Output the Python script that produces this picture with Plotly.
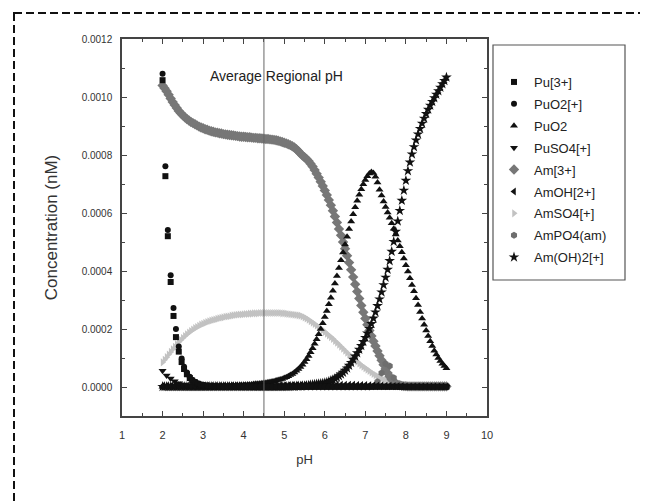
import plotly.graph_objects as go

# concentration values are given in units of 1e-6 nM
SCALE = 1e-6

pH_fine = [
    2.00, 2.05, 2.10, 2.15, 2.20, 2.25, 2.30, 2.35, 2.40, 2.45, 2.50, 2.55, 2.60, 2.65, 2.70, 2.75, 2.80, 2.85, 2.90, 2.95,
    3.00, 3.05, 3.10, 3.15, 3.20, 3.25, 3.30, 3.35, 3.40, 3.45, 3.50, 3.55, 3.60, 3.65, 3.70, 3.75, 3.80, 3.85, 3.90, 3.95,
    4.00, 4.05, 4.10, 4.15, 4.20, 4.25, 4.30, 4.35, 4.40, 4.45, 4.50, 4.55, 4.60, 4.65, 4.70, 4.75, 4.80, 4.85, 4.90, 4.95,
    5.00, 5.05, 5.10, 5.15, 5.20, 5.25, 5.30, 5.35, 5.40, 5.45, 5.50, 5.55, 5.60, 5.65, 5.70, 5.75, 5.80, 5.85, 5.90, 5.95,
    6.00, 6.05, 6.10, 6.15, 6.20, 6.25, 6.30, 6.35, 6.40, 6.45, 6.50, 6.55, 6.60, 6.65, 6.70, 6.75, 6.80, 6.85, 6.90, 6.95,
    7.00, 7.05, 7.10, 7.15, 7.20, 7.25, 7.30, 7.35, 7.40, 7.45, 7.50, 7.55, 7.60, 7.65, 7.70, 7.75, 7.80, 7.85, 7.90, 7.95,
    8.00, 8.05, 8.10, 8.15, 8.20, 8.25, 8.30, 8.35, 8.40, 8.45, 8.50, 8.55, 8.60, 8.65, 8.70, 8.75, 8.80, 8.85, 8.90, 8.95,
    9.00,
]

pH_coarse = [
    2.0, 2.1, 2.2, 2.3, 2.4, 2.5, 2.6, 2.7, 2.8, 2.9,
    3.0, 3.1, 3.2, 3.3, 3.4, 3.5, 3.6, 3.7, 3.8, 3.9,
    4.0, 4.1, 4.2, 4.3, 4.4, 4.5, 4.6, 4.7, 4.8, 4.9,
    5.0, 5.1, 5.2, 5.3, 5.4, 5.5, 5.6, 5.7, 5.8, 5.9,
    6.0, 6.1, 6.2, 6.3, 6.4, 6.5, 6.6, 6.7, 6.8, 6.9,
    7.0, 7.1, 7.2, 7.3, 7.4, 7.5, 7.6, 7.7, 7.8, 7.9,
    8.0, 8.1, 8.2, 8.3, 8.4, 8.5, 8.6, 8.7, 8.8, 8.9, 9.0,
]

pH_pu = [
    2.00, 2.07, 2.13, 2.20, 2.27, 2.33, 2.40, 2.47, 2.53, 2.60, 2.67, 2.73, 2.80, 2.87, 2.93, 3.00,
    3.1, 3.2, 3.3, 3.4, 3.5, 3.6, 3.7, 3.8, 3.9,
    4.0, 4.1, 4.2, 4.3, 4.4, 4.5, 4.6, 4.7, 4.8, 4.9,
    5.0, 5.1, 5.2, 5.3, 5.4, 5.5, 5.6, 5.7, 5.8, 5.9,
    6.0, 6.1, 6.2, 6.3, 6.4, 6.5, 6.6, 6.7, 6.8, 6.9,
    7.0, 7.1, 7.2, 7.3, 7.4, 7.5, 7.6, 7.7, 7.8, 7.9,
    8.0, 8.1, 8.2, 8.3, 8.4, 8.5, 8.6, 8.7, 8.8, 8.9, 9.0,
]

pu3 = [
    1058, 727, 520, 362, 245, 172, 122, 86, 62, 44, 31, 22, 16, 11, 8, 6,
    4, 3, 3, 2, 2, 2, 2, 1, 1,
    1, 1, 1, 1, 1, 1, 1, 1, 1, 1,
    1, 1, 1, 1, 1, 1, 1, 1, 1, 1,
    1, 1, 1, 1, 1, 1, 1, 1, 1, 1,
    1, 1, 1, 1, 1, 1, 1, 1, 1, 1,
    1, 1, 1, 1, 1, 1, 1, 1, 1, 1, 1,
]

puo2_plus = [
    1080, 761, 541, 385, 272, 200, 140, 98, 70, 50, 35, 25, 18, 13, 9, 7,
    5, 4, 3, 3, 2, 2, 2, 2, 1,
    1, 1, 1, 1, 1, 1, 1, 1, 1, 1,
    1, 1, 1, 1, 1, 1, 1, 1, 1, 1,
    1, 1, 1, 1, 1, 1, 1, 1, 1, 1,
    1, 1, 1, 1, 1, 1, 1, 1, 1, 1,
    1, 1, 1, 1, 1, 1, 1, 1, 1, 1, 1,
]

puo2 = [
    1, 1, 1, 1, 1, 1, 1, 1, 1, 1, 1, 1, 1, 1, 1, 1, 1, 1, 1, 1,
    1, 1, 1, 1, 1, 2, 2, 2, 2, 2, 3, 3, 3, 3, 4, 4, 5, 5, 6, 6,
    7, 7, 8, 8, 9, 10, 11, 11, 12, 13, 14, 15, 16, 17, 19, 20, 22, 24, 26, 28,
    31, 34, 37, 41, 45, 50, 56, 62, 69, 77, 86, 96, 107, 120, 134, 149, 165, 182, 200, 220,
    241, 262, 285, 308, 332, 357, 383, 410, 437, 464, 491, 518, 545, 571, 596, 620, 642, 663, 682, 699,
    714, 727, 736, 741, 738, 725, 705, 680, 660, 640, 621, 602, 584, 565, 546, 526, 505, 485, 465, 443,
    420, 398, 375, 352, 330, 306, 283, 259, 236, 215, 195, 176, 158, 141, 125, 112, 100, 90, 80, 72,
    65,
]

puso4_plus = [
    56, 40, 29, 20, 13, 8, 5, 3, 2, 2,
    1, 1, 1, 1, 1, 1, 1, 1, 1, 1,
    1, 1, 1, 1, 1, 1, 1, 1, 1, 1,
    1, 1, 1, 1, 1, 1, 1, 1, 1, 1,
    1, 1, 1, 1, 1, 1, 1, 1, 1, 1,
    1, 1, 1, 1, 1, 1, 1, 1, 1, 1,
    1, 1, 1, 1, 1, 1, 1, 1, 1, 1, 1,
]

am3 = [
    1040, 1030, 1020, 1008, 995, 983, 972, 962, 952, 944, 937, 930, 924, 919, 914, 910, 906, 902, 898, 895,
    892, 889, 887, 884, 882, 880, 878, 877, 875, 874, 872, 871, 870, 869, 868, 867, 866, 865, 864, 863,
    863, 862, 861, 861, 860, 859, 859, 858, 858, 857, 856, 855, 855, 854, 853, 852, 851, 849, 847, 845,
    842, 840, 837, 834, 830, 826, 820, 813, 805, 798, 792, 786, 779, 770, 760, 748, 735, 722, 708, 693,
    678, 662, 645, 627, 608, 588, 567, 545, 523, 500, 477, 453, 429, 404, 379, 354, 329, 305, 281, 258,
    236, 215, 195, 176, 158, 141, 124, 108, 92, 77, 62, 48, 36, 26, 18, 12, 8, 6, 4, 3,
    3, 2, 2, 2, 2, 2, 2, 2, 2, 2, 2, 2, 2, 2, 2, 2, 2, 2, 2, 2,
    2,
]

amoh_2plus = [
    3, 3, 3, 3, 3, 3, 3, 3, 3, 3,
    3, 3, 3, 3, 3, 3, 3, 4, 4, 4,
    4, 4, 4, 4, 4, 4, 5, 5, 5, 5,
    5, 5, 6, 6, 6, 6, 7, 7, 7, 7,
    8, 8, 8, 8, 8, 8, 8, 8, 7, 7,
    7, 6, 6, 5, 5, 4, 4, 3, 3, 3,
    2, 2, 2, 2, 2, 2, 2, 2, 2, 2, 2,
]

amso4_plus = [
    85, 94, 103, 112, 121, 130, 139, 147, 155, 162, 169, 176, 182, 188, 193, 198, 203, 207, 211, 215,
    218, 221, 224, 227, 229, 231, 233, 235, 237, 239, 240, 242, 243, 244, 246, 247, 248, 249, 250, 250,
    251, 252, 252, 253, 253, 254, 254, 254, 255, 255, 255, 255, 255, 255, 255, 255, 255, 255, 255, 254,
    254, 253, 252, 251, 250, 249, 248, 247, 246, 243, 240, 236, 232, 227, 222, 217, 212, 207, 202, 196,
    190, 184, 178, 172, 166, 159, 153, 146, 139, 132, 125, 118, 112, 105, 99, 93, 87, 81, 75, 70,
    65, 60, 55, 50, 45, 41, 37, 33, 29, 26, 23, 20, 17, 14, 12, 10, 9, 8, 7, 6,
    5, 5, 4, 4, 4, 4, 3, 3, 3, 3, 3, 3, 3, 2, 2, 2, 2, 2, 2, 2,
    2,
]

ampo4_am = [
    0, 0, 0, 0, 0, 0, 0, 0, 0, 0,
    0, 0, 0, 0, 0, 0, 0, 0, 0, 0,
    0, 0, 0, 0, 0, 0, 0, 0, 0, 0,
    0, 0, 0, 0, 0, 0, 0, 0, 0, 0,
    0, 0, 0, 0, 0, 0, 0, 0, 0, 0,
    0, 0, 2, 18, 48, 80, 72, 32, 8, 1,
    0, 0, 0, 0, 0, 0, 0, 0, 0, 0, 0,
]

amoh2_plus = [
    1, 1, 1, 1, 1, 1, 1, 1, 1, 1, 1, 1, 1, 1, 1, 1, 1, 1, 1, 1,
    1, 1, 1, 1, 1, 1, 1, 1, 1, 1, 1, 1, 1, 1, 1, 1, 1, 1, 1, 1,
    1, 1, 1, 1, 1, 1, 1, 1, 1, 1, 1, 1, 1, 1, 1, 1, 1, 1, 1, 1,
    1, 1, 1, 2, 2, 2, 3, 3, 3, 4, 4, 5, 6, 7, 8, 9, 10, 11, 12, 13,
    14, 16, 19, 22, 25, 29, 33, 38, 44, 50, 57, 65, 74, 84, 95, 106, 117, 129, 142, 156,
    170, 185, 201, 218, 237, 258, 280, 303, 327, 352, 378, 405, 435, 467, 501, 536, 572, 608, 643, 678,
    712, 745, 775, 803, 828, 851, 872, 891, 909, 926, 942, 957, 971, 984, 997, 1009, 1021, 1033, 1045, 1056,
    1068,
]

avg_regional_pH = 4.5

# (legend name, x, values, symbol, color, size, legend rank) in drawing order
series = [
    ("AmSO4[+]", pH_fine, amso4_plus, "triangle-right", "#c2c2c2", 7, 7),
    ("Am[3+]", pH_fine, am3, "diamond", "#777777", 8, 5),
    ("AmPO4(am)", pH_coarse, ampo4_am, "hexagon", "#6e6e6e", 7, 8),
    ("PuO2", pH_fine, puo2, "triangle-up", "#111111", 7, 3),
    ("Am(OH)2[+]", pH_fine, amoh2_plus, "star", "#111111", 8, 9),
    ("AmOH[2+]", pH_coarse, amoh_2plus, "triangle-left", "#111111", 7, 6),
    ("PuSO4[+]", pH_coarse, puso4_plus, "triangle-down", "#111111", 7, 4),
    ("Pu[3+]", pH_pu, pu3, "square", "#111111", 6, 1),
    ("PuO2[+]", pH_pu, puo2_plus, "circle", "#111111", 6, 2),
]

fig = go.Figure()
for name, xs, vals, sym, col, size, rank in series:
    fig.add_trace(go.Scatter(
        x=xs, y=[v * SCALE for v in vals], mode="markers", name=name,
        legendgroup=name, legendrank=rank,
        marker=dict(symbol=sym, color=col, size=size, line=dict(width=0)),
    ))

FONT = "Arial, Liberation Sans, sans-serif"
# the page body adds an 8px offset; figure coordinates below are page coordinates - 8
OFF = 8
W, H = 648 - OFF, 504 - OFF
L, R, T, B = 122 - OFF, 487 - OFF, 39 - OFF, 416 - OFF

def px_x(p):
    return (p - OFF - L) / (R - L)

def px_y(p):
    return (B - (p - OFF)) / (B - T)

fig.update_layout(
    width=W, height=H,
    margin=dict(l=L, r=W - R, t=T, b=H - B, pad=0),
    paper_bgcolor="white", plot_bgcolor="white",
    font=dict(family=FONT, color="#222222"),
    showlegend=True,
    legend=dict(
        x=px_x(494), y=px_y(67), xanchor="left", yanchor="top",
        bgcolor="rgba(0,0,0,0)", borderwidth=0,
        font=dict(size=13, family=FONT, color="#222222"),
        tracegroupgap=2, traceorder="grouped",
    ),
    xaxis=dict(
        range=[1, 10], dtick=1, tick0=1,
        ticks="inside", ticklen=5, tickwidth=1, tickcolor="#444",
        minor=dict(dtick=0.5, ticks="inside", ticklen=3, tickcolor="#444"),
        showline=True, linecolor="#444", linewidth=1.5, mirror="ticks",
        showgrid=False, zeroline=False,
        tickfont=dict(size=11, color="#333"), ticklabelstandoff=8,
        title=dict(text="pH", font=dict(size=13, color="#333"), standoff=15),
    ),
    yaxis=dict(
        range=[-0.0001, 0.0012], dtick=0.0002, tick0=0, tickformat=".4f",
        ticks="inside", ticklen=5, tickwidth=1, tickcolor="#444",
        minor=dict(dtick=0.0001, ticks="inside", ticklen=3, tickcolor="#444"),
        showline=True, linecolor="#444", linewidth=1.5, mirror="ticks",
        showgrid=False, zeroline=False,
        tickfont=dict(size=10, color="#333"), ticklabelstandoff=6,
        title=dict(text="Concentration (nM)", font=dict(size=17, color="#333"), standoff=20),
    ),
    shapes=[
        dict(type="line", xref="x", yref="paper", x0=avg_regional_pH, x1=avg_regional_pH,
             y0=0, y1=1, line=dict(color="#666", width=1)),
        dict(type="rect", xref="paper", yref="paper",
             x0=px_x(493), x1=px_x(625), y0=px_y(280), y1=px_y(45),
             line=dict(color="#555", width=1.2)),
        dict(type="rect", xref="paper", yref="paper",
             x0=px_x(14), x1=px_x(641), y0=px_y(13), y1=px_y(530),
             line=dict(color="#111", width=2, dash="8px,4px")),
    ],
    annotations=[
        dict(text="Average Regional pH", xref="x", yref="y", x=4.8, y=0.001071,
             showarrow=False, font=dict(size=14, family=FONT, color="#222")),
    ],
)

fig.write_html("out.html")
